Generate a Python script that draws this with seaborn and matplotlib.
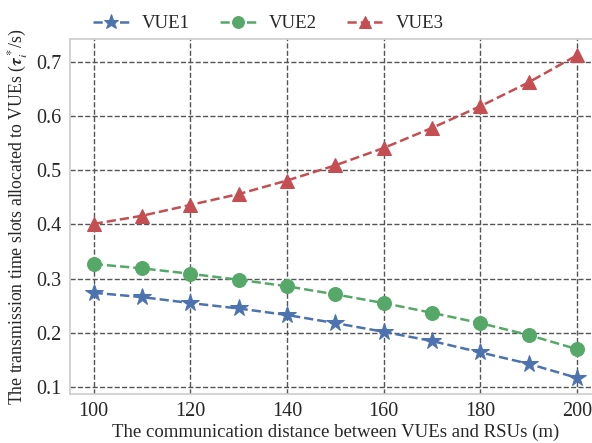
import numpy as np
import pandas as pd
import matplotlib
matplotlib.use("Agg")
import matplotlib.pyplot as plt
import seaborn as sns

# Communication distance (m)
distance = [100, 110, 120, 130, 140, 150, 160, 170, 180, 190, 200]

# Transmission time slots allocated to each VUE
vue1 = [0.274, 0.266, 0.255, 0.245, 0.233, 0.218, 0.202, 0.185, 0.164, 0.143, 0.117]
vue2 = [0.327, 0.319, 0.309, 0.298, 0.286, 0.271, 0.255, 0.237, 0.218, 0.196, 0.170]
vue3 = [0.401, 0.416, 0.436, 0.456, 0.481, 0.509, 0.541, 0.578, 0.618, 0.662, 0.712]

series_names = ["VUE1", "VUE2", "VUE3"]
markers = ["*", "o", "^"]
marker_sizes = [13, 10, 10]

df = pd.DataFrame({
    "distance": distance * 3,
    "value": vue1 + vue2 + vue3,
    "series": [n for n in series_names for _ in distance],
})

sns.set_theme(style="whitegrid", palette="deep")
plt.rcParams["font.family"] = ["Liberation Serif", "DejaVu Serif"]
plt.rcParams["mathtext.fontset"] = "stix"

fig = plt.figure(figsize=(5.92, 4.43), dpi=100)
ax = fig.add_axes([0.1174, 0.1106, 0.898, 0.801])

palette = sns.color_palette("deep")
colors = [palette[0], palette[2], palette[3]]

for name, mk, ms, c in zip(series_names, markers, marker_sizes, colors):
    sub = df[df["series"] == name]
    sns.lineplot(data=sub, x="distance", y="value", ax=ax, color=c,
                 marker=mk, markersize=ms, markeredgecolor=c,
                 linestyle="--", linewidth=1.8, label=name)

ax.set_xticks([100, 120, 140, 160, 180, 200])
ax.set_yticks([0.1, 0.2, 0.3, 0.4, 0.5, 0.6, 0.7])
ax.set_yticklabels(["0.1", "0.2", "0.3", "0.4", "0.5", "0.6", "0.7"])
ax.tick_params(axis="both", labelsize=14.5, length=0, pad=6)

ax.grid(True, linestyle="--", color="#555555", linewidth=1.0)
for s in ax.spines.values():
    s.set_color("#cccccc")
    s.set_linewidth(1.2)

ax.set_xlabel("The communication distance between VUEs and RSUs (m)", fontsize=13.5, labelpad=2)
ax.set_ylabel(r"The transmission time slots allocated to VUEs ($\boldsymbol{\tau}_i^*$/s)",
              fontsize=12.8, labelpad=4)

ax.legend(loc="lower center", bbox_to_anchor=(0.374, 0.99), ncol=3, frameon=False,
          fontsize=13.5, handlelength=1.9, handletextpad=0.7, columnspacing=1.6,
          markerscale=0.85, borderaxespad=0.15)

fig.savefig("out.png", dpi=100)
